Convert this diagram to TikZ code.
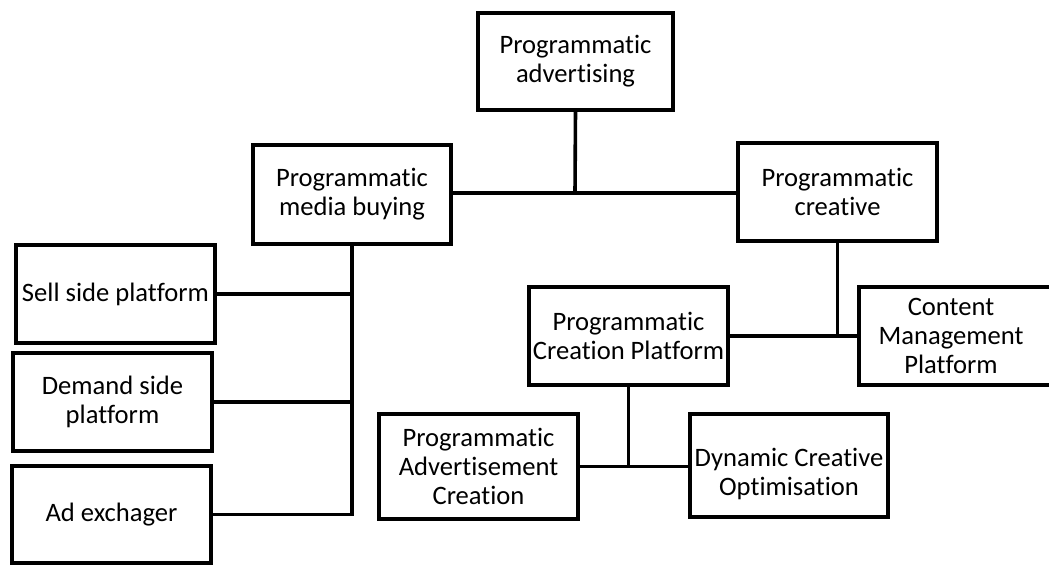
\documentclass[tikz,border=0pt]{standalone}
\usepackage{fontspec}
\setmainfont{Carlito}[Ligatures={NoCommon}]
\begin{document}
\begin{tikzpicture}[x=1pt,y=-1pt,
  box/.style={draw=black, line width=4pt, fill=white, rectangle, inner sep=0pt, outer sep=0pt,
    align=center, font=\fontsize{26.6}{29}\selectfont},
  label/.style={inner sep=0pt, align=center, font=\fontsize{26.6}{29}\selectfont},
  link/.style={draw=black, line width=3.6pt, line join=miter}]
\useasboundingbox (0,0) rectangle (1049,565);
\fill[white] (0,0) rectangle (1049,565);

% boxes
\node[box, minimum width=195pt, minimum height=97pt] (top) at (575.5,61.5) {Programmatic\\advertising};
\node[box, minimum width=198pt, minimum height=99pt] (mb) at (352,194.5) {Programmatic\\media buying};
\node[box, minimum width=199pt, minimum height=98pt] (cr) at (837.5,192) {Programmatic\\creative};
\node[box, minimum width=199pt, minimum height=98pt] (ssp) at (115.5,294) {Sell side platform};
\node[box, minimum width=199pt, minimum height=98pt] (dsp) at (112.5,402) {Demand side\\platform};
\node[box, minimum width=199pt, minimum height=97pt] (adx) at (111.5,514.5) {Ad exchager};
\node[box, minimum width=199pt, minimum height=98pt] (pcp) at (628.5,336) {Programmatic\\Creation Platform};
\node[box, minimum width=220pt, minimum height=98pt] (cmp) at (969,336) {};
\node[label] (cmpt) at (951,336) {Content\\Management\\Platform};
\node[box, minimum width=199pt, minimum height=105pt] (pac) at (478.5,466.5) {Programmatic\\Advertisement\\Creation};
\node[box, minimum width=198pt, minimum height=103pt] (dco) at (789,465.5) {};
\node[label] (dcot) at (789,474) {Dynamic Creative\\Optimisation};

% connectors
\coordinate (j1) at (575,193);
\draw[link] (top.south) -- (j1);
\draw[link] (mb.east |- j1) -- (cr.west |- j1);

\draw[link] (mb.south) -- (mb.south |- adx.east) -- (adx.east);
\draw[link] (ssp.east) -- (ssp.east -| mb.south);
\draw[link] (dsp.east) -- (dsp.east -| mb.south);

\draw[link] (cr.south) -- (cr.south |- cmp.west);
\draw[link] (pcp.east) -- (cmp.west);

\draw[link] (pcp.south) -- (pcp.south |- pac.east);
\draw[link] (pac.east) -- (pac.east -| dco.west);
\end{tikzpicture}
\end{document}
